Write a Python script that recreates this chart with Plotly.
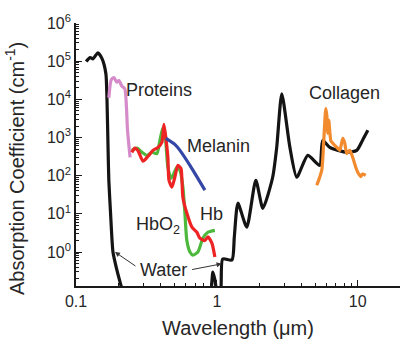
import numpy as np
import plotly.graph_objects as go

# ---- data (wavelength in µm, absorption coefficient in cm^-1) ----
water_wl = [0.118, 0.126, 0.132, 0.143, 0.153, 0.163, 0.166, 0.169, 0.171, 0.176, 0.183, 0.195, 0.208, 0.225,
            0.30, 0.50, 0.70, 0.85, 0.91, 0.937, 0.968, 1.0, 1.06, 1.10, 1.28, 1.33, 1.41, 1.63, 1.89, 2.12,
            2.49, 2.66, 2.89, 3.30, 3.69, 4.42, 5.37, 5.64, 6.33, 8.36, 9.84, 10.8, 11.8]
water_ab = [9.8e4, 1.24e5, 1.15e5, 1.66e5, 1.17e5, 4.7e4, 9.3e3, 460, 76, 10, 1.0, 0.34, 0.138, 0.05,
            0.001, 0.0003, 0.006, 0.04, 0.1, 0.30, 0.19, 0.10, 0.09, 0.66, 0.62, 2.5, 19, 4.5, 76, 14,
            91, 550, 1.4e4, 550, 91, 340, 186, 840, 550, 410, 460, 840, 1540]

protein_wl = [0.171, 0.178, 0.186, 0.195, 0.202, 0.212, 0.222, 0.232, 0.242]
protein_ab = [1.1e4, 3.3e4, 3.7e4, 2.8e4, 3.1e4, 2.2e4, 1.9e4, 1.6e3, 300]

hbo2_wl = [0.249, 0.271, 0.294, 0.319, 0.346, 0.375, 0.394, 0.414, 0.428, 0.449, 0.472, 0.488, 0.520,
           0.547, 0.574, 0.593, 0.612, 0.644, 0.676, 0.733, 0.796, 0.863, 0.968]
hbo2_ab = [460, 525, 410, 340, 410, 380, 830, 1820, 1290, 166, 85, 102, 166,
           138, 50, 10.5, 2.0, 1.0, 0.83, 1.0, 2.3, 3.3, 3.7]

hb_wl = [0.249, 0.262, 0.275, 0.299, 0.324, 0.352, 0.382, 0.407, 0.421, 0.435, 0.449, 0.457, 0.480,
         0.503, 0.529, 0.556, 0.565, 0.574, 0.612, 0.665, 0.721, 0.757, 0.822, 0.863, 0.922, 0.968]
hb_ab = [410, 525, 460, 240, 320, 460, 550, 740, 2200, 950, 300, 76, 50,
         91, 186, 155, 76, 27, 10.5, 4.5, 3.3, 2.3, 2.0, 2.5, 1.7, 0.74]

melanin_wl = [0.435, 0.503, 0.547, 0.644, 0.733, 0.822]
melanin_ab = [950, 660, 460, 186, 85, 42]

collagen_wl = [5.12, 5.55, 5.74, 5.93, 6.03, 6.13, 6.23, 6.44, 6.65, 7.10, 7.45, 7.83, 8.09, 8.36,
               8.78, 9.22, 9.68, 10.0, 10.5, 10.8, 11.4]
collagen_ab = [56, 138, 840, 5700, 3800, 1290, 2800, 830, 710, 550, 460, 950, 710, 380,
               460, 300, 166, 123, 95, 110, 102]

x_tick_vals = [0.1, 1, 10]
x_tick_text = ["0.1", "1", "10"]
y_tick_vals = [1, 10, 100, 1e3, 1e4, 1e5, 1e6]
y_tick_text = ["10<sup>0</sup>", "10<sup>1</sup>", "10<sup>2</sup>", "10<sup>3</sup>",
               "10<sup>4</sup>", "10<sup>5</sup>", "10<sup>6</sup>"]

FONT = "Liberation Sans, Arial, sans-serif"
TXT = "#262626"

fig = go.Figure()
series = [
    (water_wl, water_ab, "#141414"),
    (protein_wl, protein_ab, "#d58ac9"),
    (hbo2_wl, hbo2_ab, "#4cb83c"),
    (hb_wl, hb_ab, "#ee2424"),
    (melanin_wl, melanin_ab, "#3447a6"),
    (collagen_wl, collagen_ab, "#f28a2e"),
]
for wl, ab, col in series:
    fig.add_trace(go.Scatter(x=wl, y=ab, mode="lines",
                             line=dict(color=col, width=3.2, shape="spline", smoothing=0.6),
                             showlegend=False, hoverinfo="skip"))

x_minor = [d * 10.0 ** e for e in (-1, 0, 1) for d in range(2, 10)]
y_minor = [d * 10.0 ** e for e in range(-1, 6) for d in range(2, 10)]

axis_common = dict(showline=True, linecolor="#1a1a1a", linewidth=1.6, ticks="inside",
                   tickcolor="#1a1a1a", tickwidth=1.2, ticklen=6, showgrid=False, zeroline=False,
                   mirror=False, tickfont=dict(family=FONT, size=16, color=TXT))
fig.update_xaxes(type="log", range=[-1, 1.3], tickmode="array", tickvals=x_tick_vals,
                 ticktext=x_tick_text,
                 minor=dict(tickmode="array", tickvals=x_minor, ticks="inside", ticklen=3,
                            tickcolor="#1a1a1a", tickwidth=1),
                 **axis_common)
fig.update_yaxes(type="log", range=[-0.89, 6], tickmode="array", tickvals=y_tick_vals,
                 ticktext=y_tick_text,
                 minor=dict(tickmode="array", tickvals=y_minor, ticks="inside", ticklen=3,
                            tickcolor="#1a1a1a", tickwidth=1),
                 **axis_common)

ann_font = dict(family=FONT, size=18, color=TXT)
labels = [
    ("Proteins", 0.388, 1.8e4),
    ("Melanin", 1.03, 590),
    ("Collagen", 8.09, 1.5e4),
    ("HbO<sub>2</sub>", 0.382, 5.0),
    ("Hb", 0.922, 9.8),
    ("Water", 0.421, 0.34),
]
for text, lx, ly in labels:
    fig.add_annotation(x=np.log10(lx), y=np.log10(ly), text=text, showarrow=False,
                       font=ann_font, xanchor="center", yanchor="middle")

# arrows pointing to the water curve
arrows = [(0.189, 1.0, 22, 15), (1.08, 0.49, -31, 6)]
for ax_x, ax_y, dx, dy in arrows:
    fig.add_annotation(x=np.log10(ax_x), y=np.log10(ax_y), text="", showarrow=True,
                       arrowhead=2, arrowsize=1, arrowwidth=1, arrowcolor="#333",
                       ax=dx, ay=dy)

title_font = dict(family=FONT, size=20, color=TXT)
fig.add_annotation(xref="paper", yref="paper", x=0.5, y=-0.16, text="Wavelength (\u03bcm)",
                   showarrow=False, font=title_font, xanchor="center", yanchor="middle")
fig.add_annotation(xref="paper", yref="paper", x=-0.188, y=0.445,
                   text="Absorption Coefficient (cm<sup>-1</sup>)", textangle=-90,
                   showarrow=False, font=title_font, xanchor="center", yanchor="middle")

fig.update_layout(width=407, height=344, margin=dict(l=76, r=7, t=23, b=58),
                  paper_bgcolor="white", plot_bgcolor="white")

fig.write_html("out.html")
